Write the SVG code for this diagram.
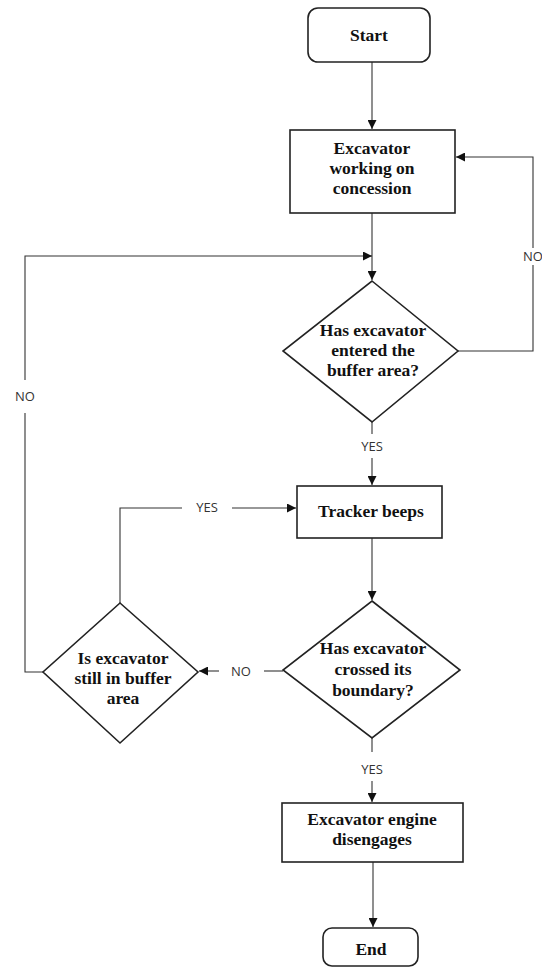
<svg xmlns="http://www.w3.org/2000/svg" width="542" height="968" viewBox="0 0 542 968">
<style>
.shape{fill:#fff;stroke:#222;stroke-width:1.6}
.t{font-family:"Liberation Serif","Times New Roman",serif;font-weight:bold;font-size:17.5px;fill:#111;text-anchor:middle}
.c{fill:none;stroke:#333;stroke-width:1.1}
.lbl{font-family:"Open Sans","Liberation Sans",sans-serif;font-size:13px;fill:#333;text-anchor:middle}
</style>
<defs>
<marker id="ah" viewBox="0 0 10 10" refX="10" refY="5" markerWidth="9" markerHeight="9" markerUnits="userSpaceOnUse" orient="auto">
<path d="M0,0 L10,5 L0,10 z" fill="#111"/>
</marker>
</defs>
<rect width="542" height="968" fill="#fff"/>
<g id="connectors">
<path class="c" d="M372,62 V129" marker-end="url(#ah)"/>
<path class="c" d="M372,213 V280" marker-end="url(#ah)"/>
<path class="c" d="M458,351 H533 V265"/>
<path class="c" d="M533,248 V157 H456" marker-end="url(#ah)"/>
<path class="c" d="M43,672 H25 V413"/>
<path class="c" d="M25,380 V256 H372" marker-end="url(#ah)"/>
<path class="c" d="M372,422 V434"/>
<path class="c" d="M372,458 V485" marker-end="url(#ah)"/>
<path class="c" d="M120,603 V508 H182"/>
<path class="c" d="M232,508 H296" marker-end="url(#ah)"/>
<path class="c" d="M372,538 V600" marker-end="url(#ah)"/>
<path class="c" d="M283,671 H264"/>
<path class="c" d="M219,671 H199" marker-end="url(#ah)"/>
<path class="c" d="M372,738 V752"/>
<path class="c" d="M372,781 V802" marker-end="url(#ah)"/>
<path class="c" d="M373,862 V927" marker-end="url(#ah)"/>
<text class="lbl" x="533" y="261">NO</text>
<text class="lbl" x="25" y="401">NO</text>
<text class="lbl" x="372" y="451">YES</text>
<text class="lbl" x="207" y="512">YES</text>
<text class="lbl" x="241" y="676">NO</text>
<text class="lbl" x="372" y="774">YES</text>
</g>
<g id="start">
<rect class="shape" x="308" y="8" width="122" height="54" rx="10"/>
<text class="t" x="369" y="41">Start</text>
</g>
<g id="working">
<rect class="shape" x="290" y="130" width="165" height="83"/>
<text class="t" x="372" y="154">Excavator</text>
<text class="t" x="372" y="174">working on</text>
<text class="t" x="372" y="194">concession</text>
</g>
<g id="entered">
<polygon class="shape" points="372,281 458,351 372,422 283,351"/>
<text class="t" x="373" y="336">Has excavator</text>
<text class="t" x="373" y="356">entered the</text>
<text class="t" x="373" y="376">buffer area?</text>
</g>
<g id="tracker">
<rect class="shape" x="297" y="486" width="145" height="52"/>
<text class="t" x="371" y="517">Tracker beeps</text>
</g>
<g id="crossed">
<polygon class="shape" points="372,601 460,670 372,738 283,670"/>
<text class="t" x="373" y="654">Has excavator</text>
<text class="t" x="373" y="675">crossed its</text>
<text class="t" x="373" y="696">boundary?</text>
</g>
<g id="still">
<polygon class="shape" points="120,603 198,672 120,743 43,672"/>
<text class="t" x="123" y="664">Is excavator</text>
<text class="t" x="123" y="684">still in buffer</text>
<text class="t" x="123" y="704">area</text>
</g>
<g id="disengage">
<rect class="shape" x="282" y="803" width="181" height="59"/>
<text class="t" x="372" y="825">Excavator engine</text>
<text class="t" x="372" y="845">disengages</text>
</g>
<g id="end">
<rect class="shape" x="323" y="928" width="95" height="38" rx="9"/>
<text class="t" x="371" y="955">End</text>
</g>
</svg>
